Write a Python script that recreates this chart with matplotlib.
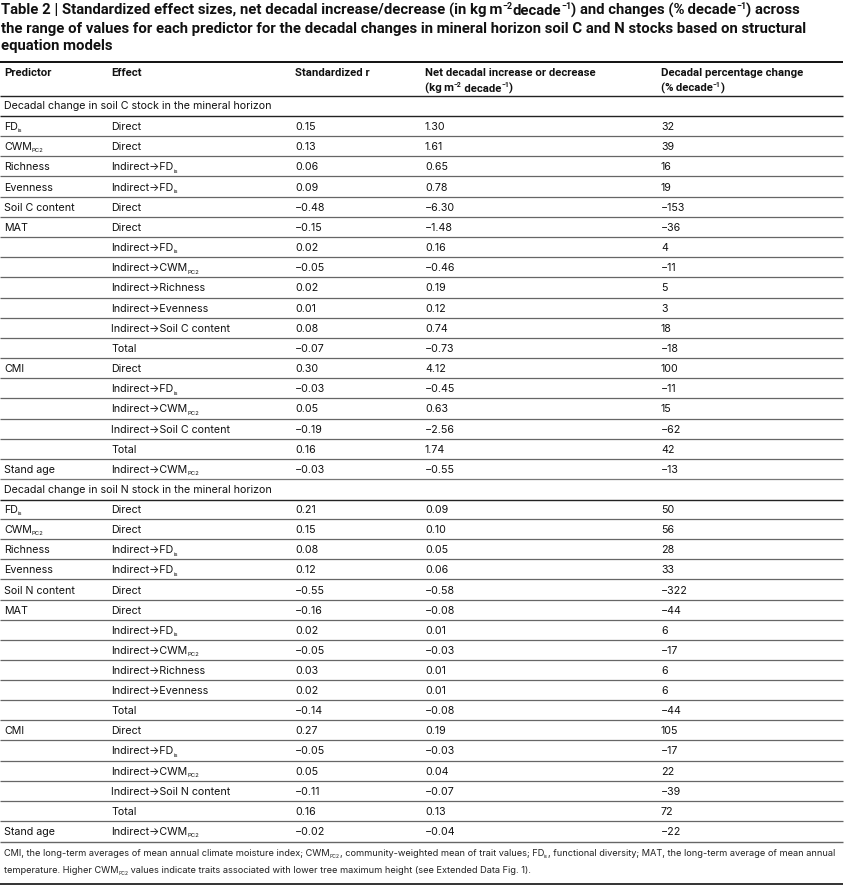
import re
import matplotlib
matplotlib.use("Agg")
import matplotlib.pyplot as plt

# ---------------- data ----------------
title_lines = [
    "Table 2 | Standardized effect sizes, net decadal increase/decrease (in kg\u2009m^{\u22122}decade^{\u22121}) and changes (%\u2009decade^{\u22121}) across",
    "the range of values for each predictor for the decadal changes in mineral horizon soil C and N stocks based on structural",
    "equation models",
]
col_headers = [
    ["Predictor"],
    ["Effect"],
    ["Standardized r"],
    ["Net decadal increase or decrease", "(kg\u2009m^{\u22122}\u2009decade^{\u22121})"],
    ["Decadal percentage change", "(%\u2009decade^{\u22121})"],
]
section_titles = [
    "Decadal change in soil C stock in the mineral horizon",
    "Decadal change in soil N stock in the mineral horizon",
]

c_predictors = ["FD_{is}", "CWM_{PC2}", "Richness", "Evenness", "Soil C content", "MAT",
                "", "", "", "", "", "", "CMI", "", "", "", "", "Stand age"]
c_effects = ["Direct", "Direct", "Indirect\u2192FD_{is}", "Indirect\u2192FD_{is}", "Direct", "Direct",
             "Indirect\u2192FD_{is}", "Indirect\u2192CWM_{PC2}", "Indirect\u2192Richness",
             "Indirect\u2192Evenness", "Indirect\u2192Soil C content", "Total",
             "Direct", "Indirect\u2192FD_{is}", "Indirect\u2192CWM_{PC2}",
             "Indirect\u2192Soil C content", "Total", "Indirect\u2192CWM_{PC2}"]
c_r = [0.15, 0.13, 0.06, 0.09, -0.48, -0.15, 0.02, -0.05, 0.02, 0.01, 0.08, -0.07,
       0.30, -0.03, 0.05, -0.19, 0.16, -0.03]
c_net = [1.30, 1.61, 0.65, 0.78, -6.30, -1.48, 0.16, -0.46, 0.19, 0.12, 0.74, -0.73,
         4.12, -0.45, 0.63, -2.56, 1.74, -0.55]
c_pct = [32, 39, 16, 19, -153, -36, 4, -11, 5, 3, 18, -18, 100, -11, 15, -62, 42, -13]

n_predictors = ["FD_{is}", "CWM_{PC2}", "Richness", "Evenness", "Soil N content", "MAT",
                "", "", "", "", "", "CMI", "", "", "", "", "Stand age"]
n_effects = ["Direct", "Direct", "Indirect\u2192FD_{is}", "Indirect\u2192FD_{is}", "Direct", "Direct",
             "Indirect\u2192FD_{is}", "Indirect\u2192CWM_{PC2}", "Indirect\u2192Richness",
             "Indirect\u2192Evenness", "Total",
             "Direct", "Indirect\u2192FD_{is}", "Indirect\u2192CWM_{PC2}",
             "Indirect\u2192Soil N content", "Total", "Indirect\u2192CWM_{PC2}"]
n_r = [0.21, 0.15, 0.08, 0.12, -0.55, -0.16, 0.02, -0.05, 0.03, 0.02, -0.14,
       0.27, -0.05, 0.05, -0.11, 0.16, -0.02]
n_net = [0.09, 0.10, 0.05, 0.06, -0.58, -0.08, 0.01, -0.03, 0.01, 0.01, -0.08,
         0.19, -0.03, 0.04, -0.07, 0.13, -0.04]
n_pct = [50, 56, 28, 33, -322, -44, 6, -17, 6, 6, -44, 105, -17, 22, -39, 72, -22]

footnote_lines = [
    "CMI, the long-term averages of mean annual climate moisture index; CWM_{PC2}, community-weighted mean of trait values; FD_{is}, functional diversity; MAT, the long-term average of mean annual",
    "temperature. Higher CWM_{PC2} values indicate traits associated with lower tree maximum height (see Extended Data Fig. 1).",
]

# ---------------- layout ----------------
W, H = 850, 886
BODY = ["Inter", "DejaVu Sans"]
BOLD = ["Liberation Sans Narrow", "Roboto", "DejaVu Sans"]
col_x = [4, 111, 295, 425, 661]
x_left, x_right = 0, 843

fig = plt.figure(figsize=(W / 100, H / 100), dpi=100)
ax = fig.add_axes([0, 0, 1, 1])
ax.set_xlim(0, W)
ax.set_ylim(H, 0)
ax.axis("off")
renderer = fig.canvas.get_renderer()


def fmt(v, nd=2):
    s = f"{v:.{nd}f}" if nd else f"{v:d}"
    return s.replace("-", "\u2212")


def parse(s):
    segs = []
    pos = 0
    for m in re.finditer(r"([_^])\{([^}]*)\}", s):
        if m.start() > pos:
            segs.append((s[pos:m.start()], 0))
        segs.append((m.group(2), -1 if m.group(1) == "_" else 1))
        pos = m.end()
    if pos < len(s):
        segs.append((s[pos:], 0))
    return segs


def rich(x, yb, s, size, family, weight="normal", color="#111111", sub_scale=0.55, sup_scale=0.6):
    for txt, kind in parse(s):
        if kind == 0:
            fs, dy = size, 0
        elif kind == -1:
            fs, dy = size * sub_scale, size * 0.30
        else:
            fs, dy = size * sup_scale, -size * 0.55
        t = ax.text(x, yb + dy, txt, fontsize=fs, family=family, weight=weight,
                    color=color, ha="left", va="baseline")
        bb = t.get_window_extent(renderer)
        x += bb.width
    return x


def hline(y, lw=0.8, color="#555555"):
    ax.plot([x_left, x_right], [y, y], color=color, lw=lw, solid_capstyle="butt")


# title
title_size = 10.75
for i, line in enumerate(title_lines):
    rich(1, 15 + i * 17.5, line, title_size, BOLD, weight="bold", color="#111111")

# header
hline(62, lw=1.4, color="#111111")
hdr_size = 8.2
for cx, lines in zip(col_x, col_headers):
    for j, line in enumerate(lines):
        rich(cx, 76 + j * 16, line, hdr_size, BOLD, weight="bold")
hline(96, lw=1.0, color="#222222")

body_size = 7.7


def draw_section(y_head, y_first, preds, effs, rs, nets, pcts, step):
    rich(col_x[0], y_head + 4, section_titles[draw_section.k], body_size, BODY)
    draw_section.k += 1
    hline((y_head + y_first) / 2 + 0.5, lw=1.0, color="#222222")
    n = len(preds)
    for i in range(n):
        yc = y_first + i * step
        yb = yc + 4
        if preds[i]:
            rich(col_x[0], yb, preds[i], body_size, BODY)
        rich(col_x[1], yb, effs[i], body_size, BODY)
        rich(col_x[2], yb, fmt(rs[i]), body_size, BODY)
        rich(col_x[3], yb, fmt(nets[i]), body_size, BODY)
        rich(col_x[4], yb, fmt(pcts[i], 0), body_size, BODY)
        if i < n - 1:
            hline(yc + step / 2, lw=0.9, color="#666666")
    return y_first + (n - 1) * step


draw_section.k = 0
last1 = draw_section(104.5, 126, c_predictors, c_effects, c_r, c_net, c_pct, (469 - 126) / 17)
hline(479, lw=0.9, color="#777777")
last2 = draw_section(489, 509, n_predictors, n_effects, n_r, n_net, n_pct, (831 - 509) / 16)
hline(842, lw=1.0, color="#666666")

foot_size = 6.65
for i, line in enumerate(footnote_lines):
    rich(col_x[0], 856 + i * 17, line, foot_size, BODY, color="#222222")
hline(884, lw=1.2, color="#111111")

fig.savefig("out.png", dpi=100)
